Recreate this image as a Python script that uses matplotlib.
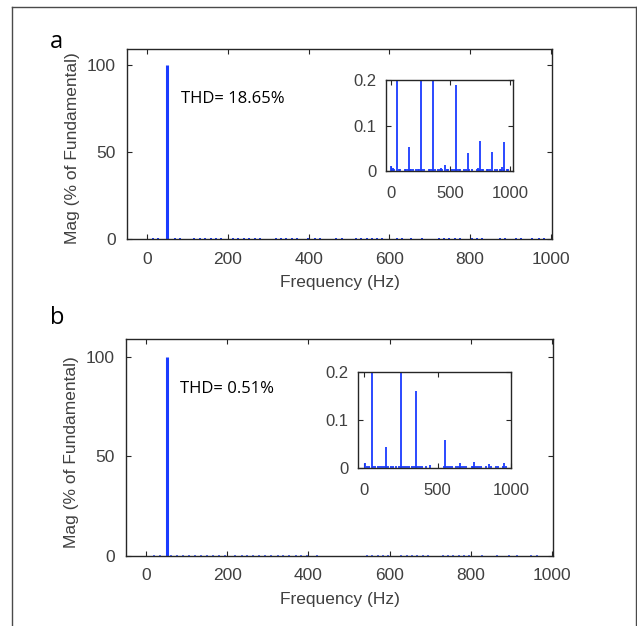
import matplotlib
matplotlib.use("Agg")
import matplotlib.pyplot as plt
from matplotlib.lines import Line2D

# fundamental (both panels)
fund_freq = 50
fund_mag = 100.0

# panel a: harmonic spectrum (% of fundamental)
harm_freq_a = [0, 20, 150, 250, 350, 425, 455, 550, 650, 735, 750, 850, 930, 950]
harm_mag_a = [0.010, 0.007, 0.052, 0.45, 0.40, 0.007, 0.013, 0.189, 0.039, 0.007,
              0.067, 0.042, 0.008, 0.064]
floor_freq_a = [15, 28, 68, 81, 116, 131, 144, 158, 171, 184, 213, 226, 240, 253, 266,
                279, 319, 332, 345, 358, 372, 398, 416, 429, 468, 482, 517, 530, 544,
                557, 570, 583, 618, 632, 654, 680, 722, 736, 749, 762, 775, 804, 817,
                830, 874, 887, 914, 927, 953, 971, 984]
floor_mag_a = 0.004
thd_a = "THD= 18.65%"

# panel b
harm_freq_b = [5, 150, 250, 350, 450, 550, 650, 750, 850, 950]
harm_mag_b = [0.010, 0.044, 0.45, 0.160, 0.006, 0.058, 0.010, 0.012, 0.008, 0.010]
floor_freq_b = [20, 33, 61, 76, 91, 106, 120, 135, 150, 164, 180, 195, 220, 235, 249,
                264, 279, 293, 308, 324, 338, 353, 368, 382, 397, 422, 544, 557, 571,
                584, 597, 628, 642, 655, 668, 682, 695, 731, 744, 757, 771, 784, 797,
                828, 864, 895, 913, 948, 964]
floor_mag_b = 0.005
thd_b = "THD= 0.51%"

W, H = 637, 626
BLUE = "#1a3cff"
SPINE = "#262626"
TICK = "#404040"
plt.rcParams["font.family"] = ["Liberation Sans", "DejaVu Sans"]


def frac(left, top, right, bottom):
    return [left / W, 1 - bottom / H, (right - left) / W, (bottom - top) / H]


def style(ax, size, pad_x, pad_y):
    for s in ax.spines.values():
        s.set_color(SPINE)
        s.set_linewidth(1.0)
    ax.tick_params(direction="in", top=True, right=True, length=3.5, width=0.8,
                   colors=SPINE, labelcolor=TICK, labelsize=size)
    ax.tick_params(axis="x", pad=pad_x)
    ax.tick_params(axis="y", pad=pad_y)


def panel(box, inset_box, harm_freq, harm_mag, floor_freq, floor_mag, thd, letter,
          letter_y, inset_xlim, dot_color):
    ax = fig.add_axes(frac(*box))
    ax.vlines([fund_freq], 0, [fund_mag], color=BLUE, lw=2.2)
    ax.plot(floor_freq, [floor_mag] * len(floor_freq), "s", color=dot_color, ms=1.6,
            mew=0, clip_on=False)
    ax.set_xlim(-50, 1003)
    ax.set_ylim(0, 109)
    ax.set_xticks([0, 200, 400, 600, 800, 1000])
    ax.set_yticks([0, 50, 100])
    style(ax, 12.5, 9, 8)
    ax.set_xlabel("Frequency (Hz)", fontsize=12.5, color=TICK, labelpad=6)
    ax.set_ylabel("Mag (% of Fundamental)", fontsize=12.5, color=TICK)
    ax.yaxis.set_label_coords(-0.11, 0.48)
    ax.text((box[0] + 54) / W, 1 - (box[1] + 50) / H, thd, transform=fig.transFigure,
            fontsize=12, family="Open Sans", va="center", ha="left")
    fig.text(50 / W, 1 - letter_y / H, letter, fontsize=17, family="Open Sans",
             va="center", ha="left")

    ins = fig.add_axes(frac(*inset_box))
    ins.vlines([fund_freq], 0, [fund_mag], color=BLUE, lw=1.3)
    ins.vlines(harm_freq, 0, harm_mag, color=BLUE, lw=1.3)
    ins.vlines(floor_freq, 0, [floor_mag] * len(floor_freq), color=BLUE, lw=1.3)
    ins.set_xlim(*inset_xlim)
    ins.set_ylim(0, 0.2)
    ins.set_xticks([0, 500, 1000])
    ins.set_yticks([0, 0.1, 0.2])
    ins.set_yticklabels(["0", "0.1", "0.2"])
    style(ins, 12, 11, 7)
    return ax, ins


fig = plt.figure(figsize=(W / 100, H / 100), dpi=100)

panel((127, 49, 552, 239), (386, 80, 513, 171), harm_freq_a, harm_mag_a,
      floor_freq_a, floor_mag_a, thd_a, "a", 42, (-40, 1025), BLUE)
panel((126, 339, 553, 556), (358, 372, 511, 468), harm_freq_b, harm_mag_b,
      floor_freq_b, floor_mag_b, thd_b, "b", 318, (-42, 1000), "#5a72ff")

# outer frame (open at the bottom)
frame = dict(color="#4a4a4a", lw=1.0, transform=fig.transFigure)
fig.add_artist(Line2D([12 / W, 12 / W], [0, 1 - 7 / H], **frame))
fig.add_artist(Line2D([12 / W, 635.5 / W], [1 - 7 / H, 1 - 7 / H], **frame))
fig.add_artist(Line2D([635.5 / W, 635.5 / W], [0, 1 - 7 / H], **frame))

fig.savefig("out.png", dpi=100)
